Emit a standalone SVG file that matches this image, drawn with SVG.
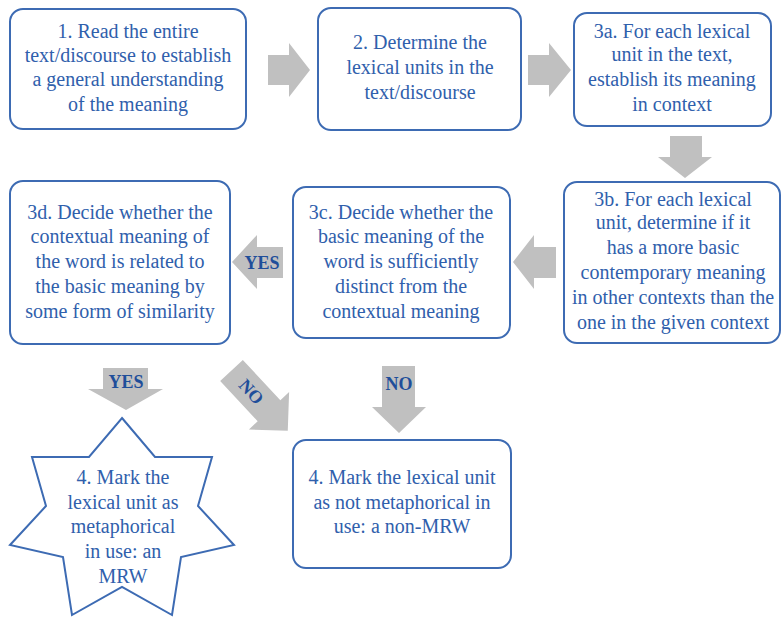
<svg xmlns="http://www.w3.org/2000/svg" width="782" height="618" viewBox="0 0 782 618">
<style>
.box{fill:#fff;stroke:#3d6bb3;stroke-width:2}
.t{font-family:"Liberation Serif",serif;font-size:20px;fill:#3060ac;text-anchor:middle}
.lbl{font-family:"Liberation Serif",serif;font-size:18px;font-weight:bold;fill:#1f4e9a;text-anchor:middle}
.arr{fill:#c0c0c0}
</style>
<rect width="782" height="618" fill="#fff"/>
<g id="connectors">
<polygon class="arr" points="268,55 289,55 289,43 310,70 289,97 289,85 268,85"/>
<polygon class="arr" points="528,55 549,55 549,43 571,70 549,97 549,85 528,85"/>
<polygon class="arr" points="670,136 702,136 702,157 712,157 685,178 658,157 670,157"/>
<polygon class="arr" points="556,247 534,247 534,235 513,262 534,289 534,278 556,278"/>
<polygon class="arr" points="283,247 257,247 257,235 232,262 257,289 257,278 283,278"/>
<polygon class="arr" points="103,368 148,368 148,389 163,389 126,410 88,389 103,389"/>
<polygon class="arr" points="382,366 415,366 415,407 426,407 399,433 372,407 382,407"/>
<g transform="translate(231.5,370.5) rotate(47)">
<polygon class="arr" points="0,-15.5 55,-15.5 55,-27.5 82.5,0 55,27.5 55,15.5 0,15.5"/>
<text class="lbl" x="29" y="6">NO</text>
</g>
<text class="lbl" x="262" y="269">YES</text>
<text class="lbl" x="126" y="388">YES</text>
<text class="lbl" x="399" y="390">NO</text>
</g>
<g id="n1">
<rect class="box" x="10" y="9" width="236" height="120" rx="13"/>
<text class="t" x="128" y="38">1. Read the entire</text>
<text class="t" x="128" y="62">text/discourse to establish</text>
<text class="t" x="128" y="86">a general understanding</text>
<text class="t" x="128" y="111">of the meaning</text>
</g>
<g id="n2">
<rect class="box" x="318" y="8" width="203" height="122" rx="13"/>
<text class="t" x="420" y="49">2. Determine the</text>
<text class="t" x="420" y="74">lexical units in the</text>
<text class="t" x="420" y="99">text/discourse</text>
</g>
<g id="n3a">
<rect class="box" x="574" y="13" width="197" height="113" rx="13"/>
<text class="t" x="672" y="38">3a. For each lexical</text>
<text class="t" x="672" y="61">unit in the text,</text>
<text class="t" x="672" y="86">establish its meaning</text>
<text class="t" x="672" y="111">in context</text>
</g>
<g id="n3b">
<rect class="box" x="564" y="182" width="216" height="161" rx="13"/>
<text class="t" x="673" y="206">3b. For each lexical</text>
<text class="t" x="673" y="229">unit, determine if it</text>
<text class="t" x="673" y="254">has a more basic</text>
<text class="t" x="673" y="279">contemporary meaning</text>
<text class="t" x="673" y="304">in other contexts than the</text>
<text class="t" x="673" y="329">one in the given context</text>
</g>
<g id="n3c">
<rect class="box" x="293" y="187" width="217" height="151" rx="13"/>
<text class="t" x="401" y="219">3c. Decide whether the</text>
<text class="t" x="401" y="243">basic meaning of the</text>
<text class="t" x="401" y="268">word is sufficiently</text>
<text class="t" x="401" y="293">distinct from the</text>
<text class="t" x="401" y="318">contextual meaning</text>
</g>
<g id="n3d">
<rect class="box" x="10" y="181" width="220" height="163" rx="13"/>
<text class="t" x="120" y="219">3d. Decide whether the</text>
<text class="t" x="120" y="243">contextual meaning of</text>
<text class="t" x="120" y="268">the word is related to</text>
<text class="t" x="120" y="293">the basic meaning by</text>
<text class="t" x="120" y="318">some form of similarity</text>
</g>
<g id="n4mrw">
<polygon class="box" points="122,418 155,457 212,457 198,506 234,545 181,557 172,615 122,587 72,615 63,557 10,545 46,506 32,457 89,457"/>
<text class="t" x="123" y="484">4. Mark the</text>
<text class="t" x="123" y="509">lexical unit as</text>
<text class="t" x="123" y="533">metaphorical</text>
<text class="t" x="123" y="558">in use: an</text>
<text class="t" x="123" y="583">MRW</text>
</g>
<g id="n4non">
<rect class="box" x="293" y="440" width="218" height="128" rx="13"/>
<text class="t" x="402" y="484">4. Mark the lexical unit</text>
<text class="t" x="402" y="509">as not metaphorical in</text>
<text class="t" x="402" y="533">use: a non-MRW</text>
</g>
</svg>
